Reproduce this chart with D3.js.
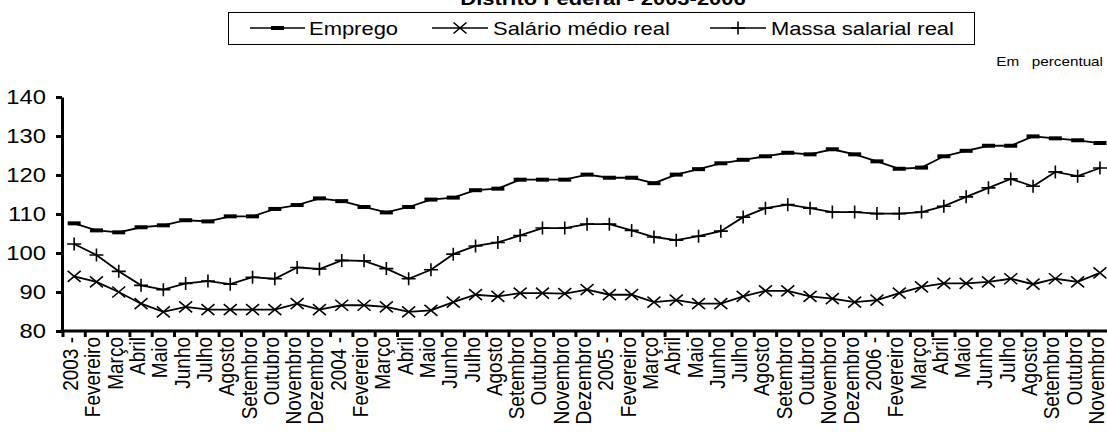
<!DOCTYPE html>
<html>
<head>
<meta charset="utf-8">
<script src="https://cdn.jsdelivr.net/npm/d3@7"></script>
<style>
  html, body { margin: 0; padding: 0; background: #fff; }
  svg { display: block; font-family: "Liberation Sans", Arial, sans-serif; }
</style>
</head>
<body>
<svg id="chart" width="1107" height="432"></svg>
<script>
const title = "Distrito Federal - 2003-2006";
const unitNote = "Em\u00a0\u00a0\u00a0percentual";
const categories = [
  "2003 -","Fevereiro","Março","Abril","Maio","Junho","Julho","Agosto","Setembro","Outubro","Novembro","Dezembro",
  "2004 -","Fevereiro","Março","Abril","Maio","Junho","Julho","Agosto","Setembro","Outubro","Novembro","Dezembro",
  "2005 -","Fevereiro","Março","Abril","Maio","Junho","Julho","Agosto","Setembro","Outubro","Novembro","Dezembro",
  "2006 -","Fevereiro","Março","Abril","Maio","Junho","Julho","Agosto","Setembro","Outubro","Novembro"
];
const seriesNames = ["Emprego", "Salário médio real", "Massa salarial real"];
const emprego = [
  107.6,105.8,105.3,106.6,107.1,108.4,108.1,109.4,109.4,111.3,112.3,114.0,
  113.3,111.8,110.4,111.8,113.7,114.2,116.1,116.5,118.8,118.8,118.8,120.1,
  119.3,119.3,117.9,120.1,121.5,123.0,123.9,124.8,125.7,125.3,126.6,125.3,
  123.5,121.6,121.9,124.8,126.2,127.5,127.5,129.9,129.4,128.9,128.2
];
const salario = [
  94.0,92.6,90.0,87.0,84.9,86.2,85.5,85.5,85.5,85.5,87.0,85.5,
  86.6,86.6,86.2,84.9,85.3,87.4,89.3,88.9,89.7,89.7,89.6,90.6,
  89.3,89.3,87.4,87.9,87.0,87.0,88.9,90.3,90.3,88.9,88.3,87.4,
  87.9,89.7,91.3,92.2,92.2,92.6,93.4,92.0,93.4,92.6,94.9
];
const massa = [
  102.3,99.5,95.3,91.7,90.6,92.2,92.8,92.0,93.8,93.4,96.3,95.9,
  98.1,98.0,96.0,93.4,95.7,99.7,101.8,102.7,104.5,106.4,106.4,107.4,
  107.4,105.8,104.1,103.3,104.3,105.6,109.2,111.5,112.4,111.5,110.5,110.5,
  110.1,110.1,110.5,112.0,114.4,116.7,119.0,117.1,120.8,119.7,121.8
];
const yTicks = [80, 90, 100, 110, 120, 130, 140];

const SX = 1.22; // horizontal stretch of the original rendering
const svg = d3.select("#chart");
const plotLeft = 63, plotRight = 63 + 47 * 22.3, plotTop = 97, plotBottom = 331;

const idx = d3.range(categories.length);
const x = d3.scaleBand().domain(idx).range([plotLeft, plotRight]).padding(0);
const y = d3.scaleLinear().domain([80, 140]).range([plotBottom, plotTop]);

// Title (cut off at top, as in the original)
svg.append("text")
  .attr("transform", `translate(603,5) scale(${SX},1)`)
  .attr("text-anchor", "middle")
  .attr("font-weight", "bold")
  .attr("font-size", 18)
  .text(title);

// Legend
const lg = svg.append("g");
lg.append("rect").attr("x", 228.5).attr("y", 12.5).attr("width", 746).attr("height", 32)
  .attr("fill", "#fff").attr("stroke", "#000").attr("stroke-width", 1);
const legendItems = [
  {name: seriesNames[0], x0: 250, x1: 305, tx: 309, type: "dash"},
  {name: seriesNames[1], x0: 432, x1: 488, tx: 493, type: "x"},
  {name: seriesNames[2], x0: 710, x1: 766, tx: 771, type: "plus"}
];

function drawMarker(g, type, cx, cy) {
  if (type === "dash") {
    g.append("rect").attr("x", cx - 6.5).attr("y", cy - 2).attr("width", 13).attr("height", 4).attr("fill", "#000");
  } else if (type === "x") {
    g.append("path").attr("d", `M${cx-6.5},${cy-5.5}L${cx+6.5},${cy+5.5}M${cx-6.5},${cy+5.5}L${cx+6.5},${cy-5.5}`)
      .attr("stroke", "#000").attr("stroke-width", 1.6).attr("fill", "none");
  } else {
    g.append("path").attr("d", `M${cx-7},${cy}L${cx+7},${cy}M${cx},${cy-6.5}L${cx},${cy+6.5}`)
      .attr("stroke", "#000").attr("stroke-width", 1.6).attr("fill", "none");
  }
}

legendItems.forEach(it => {
  const cy = 28;
  lg.append("line").attr("x1", it.x0).attr("x2", it.x1).attr("y1", cy).attr("y2", cy)
    .attr("stroke", "#000").attr("stroke-width", 1.6);
  drawMarker(lg, it.type, (it.x0 + it.x1) / 2, cy);
  lg.append("text").attr("transform", `translate(${it.tx},34.5) scale(${SX},1)`)
    .attr("font-size", 18).text(it.name);
});

// Unit note
svg.append("text")
  .attr("transform", `translate(1103,66) scale(${SX},1)`)
  .attr("text-anchor", "end").attr("font-size", 12.5)
  .text(unitNote);

// Y axis
const yAxis = svg.append("g").attr("transform", `translate(${plotLeft - 1},0)`)
  .call(d3.axisLeft(y).tickValues(yTicks).tickSize(6).tickSizeOuter(0).tickFormat(d3.format("d")));
yAxis.select(".domain").attr("stroke-width", 3);
yAxis.selectAll(".tick line").attr("stroke-width", 3);
yAxis.selectAll(".tick text")
  .attr("font-size", 19.5).attr("font-family", "Liberation Sans, Arial, sans-serif")
  .attr("x", 0).attr("dy", "0.35em")
  .attr("transform", `translate(-16,0) scale(${SX},1)`)
  .attr("fill", "#000");

// X axis
const xAxis = svg.append("g").attr("transform", `translate(0,${plotBottom})`)
  .call(d3.axisBottom(x).tickSize(0).tickSizeOuter(0).tickFormat(i => categories[i]));
xAxis.select(".domain").attr("stroke-width", 3).attr("d", `M${plotLeft - 2.5},0H${plotRight + 5}`);
xAxis.selectAll(".tick text")
  .attr("font-size", 19).attr("font-family", "Liberation Sans, Arial, sans-serif")
  .attr("x", 0).attr("y", 0).attr("dy", "0.35em")
  .attr("text-anchor", "end")
  .attr("transform", `translate(-3.5,6) scale(1.12,1) rotate(-90)`)
  .attr("fill", "#000");
const bounds = idx.map(i => x(i)).concat([x(idx[idx.length - 1]) + x.bandwidth()]);
xAxis.selectAll(".btick").data(bounds).join("line").attr("class", "btick")
  .attr("x1", d => d).attr("x2", d => d).attr("y1", 0).attr("y2", 6)
  .attr("stroke", "#000").attr("stroke-width", 3);

// Series
const cx = i => x(i) + x.bandwidth() / 2;
const line = d3.line().x((d, i) => cx(i)).y(d => y(d));
const series = [
  {values: emprego, type: "dash"},
  {values: salario, type: "x"},
  {values: massa, type: "plus"}
];
series.forEach(s => {
  const g = svg.append("g");
  g.append("path").attr("d", line(s.values)).attr("fill", "none")
    .attr("stroke", "#000").attr("stroke-width", 1.8);
  s.values.forEach((v, i) => drawMarker(g, s.type, cx(i), y(v)));
});
</script>
</body>
</html>
